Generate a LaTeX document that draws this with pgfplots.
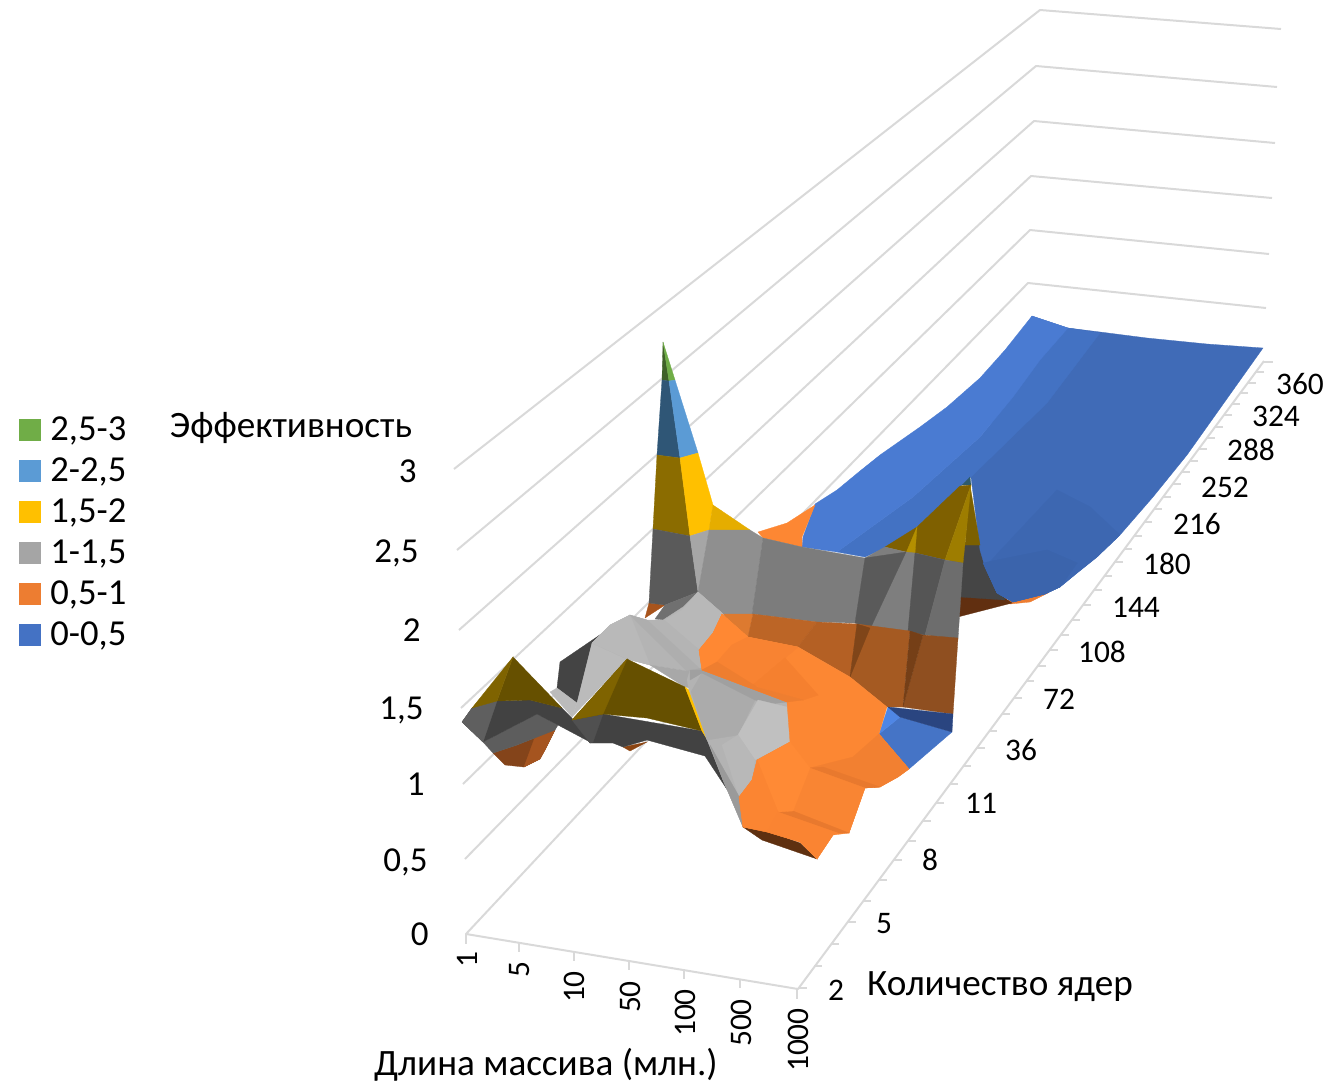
\documentclass[border=0pt]{standalone}
\usepackage{fontspec}
\setmainfont{Carlito}
\usepackage{pgfplots}
\pgfplotsset{compat=1.18}
\definecolor{gridc}{HTML}{D9D9D9}
% one flat facet of the projected surface, in canvas units
\newcommand\facet[2]{\xglobal\definecolor{c#1}{HTML}{#1}%
  \addplot[fill=c#1,draw=c#1,line width=0.15pt,forget plot] coordinates {#2} --cycle;}
\newcommand\gline[1]{\addplot[draw=gridc,line width=1pt,line join=round,forget plot] coordinates {#1};}
\newcommand\fsT{\fontsize{18.6}{22}\selectfont}
\newcommand\fsL{\fontsize{18.3}{22}\selectfont}
\newcommand\fsZ{\fontsize{17.5}{21}\selectfont}
\newcommand\fsA{\fontsize{15.7}{19}\selectfont}
\newcommand\lab[3]{\node[anchor=base,inner sep=0pt,font=\fsA] at (axis cs:#1,#2) {#3};}
\newcommand\tlab[3]{\node[anchor=base,inner sep=0pt,font=\fsT] at (axis cs:#1,#2) {#3};}
\newcommand\rlab[3]{\node[anchor=base east,inner sep=0pt,font=\fsZ] at (axis cs:#1,#2) {#3};}
\newcommand\llab[3]{\node[anchor=base west,inner sep=0pt,font=\fsL] at (axis cs:#1,#2) {#3};}
\newcommand\vlab[3]{\node[rotate=90,anchor=center,inner sep=0pt,font=\fsA] at (axis cs:#1,#2) {#3};}
\begin{document}
\begin{tikzpicture}
\useasboundingbox (0,0) rectangle (665pt,541.5pt);
\begin{axis}[at={(0,0)},anchor=south west,scale only axis,width=665pt,height=541.5pt,
  xmin=0,xmax=1330,ymin=0,ymax=1083,y dir=reverse,hide axis,clip=false,unbounded coords=jump]

% wall and floor grid lines
\gline{(454,469)(1040,10)(1281,29)}
\gline{(457,550)(1036,66)(1277,87)}
\gline{(459,630)(1034,121)(1275,143)}
\gline{(461,708)(1031,176)(1272,198)}
\gline{(463,784)(1030,230)(1269,254)}
\gline{(465,859)(1028,283)(1266,308)}
\gline{(1026,335)(466,934)(798,989)(1264,361)}
% ticks on the length axis
\gline{(466,934)(466,944)(nan,nan)(519,943)(519,952)(nan,nan)(574,952)(574,961)(nan,nan)(629,961)(629,970)(nan,nan)(684,970)(684,979)(nan,nan)(740,979)(740,988)(nan,nan)(797,989)(797,999)}
% ticks on the core-count axis
\gline{(1263,362)(1273,362)(nan,nan)(1256,372)(1264,372)(nan,nan)(1248,383)(1256,383)(nan,nan)(1240,393)(1248,393)(nan,nan)(1232,404)(1240,404)(nan,nan)(1224,415)(1232,415)(nan,nan)(1215,427)(1223,427)(nan,nan)(1207,438)(1215,438)(nan,nan)(1199,449)(1207,449)(nan,nan)(1190,461)(1198,461)(nan,nan)(1182,472)(1190,472)(nan,nan)(1173,484)(1181,484)(nan,nan)(1163,497)(1171,497)(nan,nan)(1154,509)(1162,509)(nan,nan)(1144,522)(1152,522)(nan,nan)(1134,536)(1142,536)(nan,nan)(1124,549)(1132,549)(nan,nan)(1115,562)(1123,562)(nan,nan)(1104,576)(1112,576)(nan,nan)(1094,590)(1102,590)(nan,nan)(1083,605)(1091,605)(nan,nan)(1072,620)(1080,620)(nan,nan)(1061,635)(1069,635)(nan,nan)(1050,650)(1058,650)(nan,nan)(1038,666)(1046,666)(nan,nan)(1026,681)(1034,681)(nan,nan)(1014,698)(1022,698)(nan,nan)(1002,714)(1010,714)(nan,nan)(989,731)(997,731)(nan,nan)(977,748)(985,748)(nan,nan)(963,766)(971,766)(nan,nan)(950,784)(958,784)(nan,nan)(936,803)(944,803)(nan,nan)(923,821)(931,821)(nan,nan)(908,841)(916,841)(nan,nan)(894,860)(902,860)(nan,nan)(879,880)(887,880)(nan,nan)(863,901)(871,901)(nan,nan)(848,922)(856,922)(nan,nan)(831,944)(839,944)(nan,nan)(814,966)(822,966)(nan,nan)(799,988)(807,988)}

% rear ridge seen below the far sheet
\facet{ED7D31}{(1005,601)(1030,597)(1048,593)(1030,602)(1010,604)}
\facet{612F10}{(950,619)(950,597)(993,590)(1012,603)}
\facet{454545}{(950,597)(950,545)(980,545)(990,560)(1005,600)(960,597)}

% low-efficiency sheet at the far end
\facet{406BB7}{(1032,316)(1068,328)(1100,332)(1147,338)(1207,344)(1263,348)(1187,455)(1153,497)(1120,535)(1097,557)(1077,573)(1060,587)(1045,594)(1013,602)(997,593)(985,567)(980,550)(971,477)}
\facet{3D67B1}{(985,567)(1057,490)(1090,507)(1120,535)(1097,557)(1077,573)(1060,587)(1045,594)(1013,602)(997,593)}
\facet{3B64AC}{(983,563)(1047,550)(1077,563)(1060,587)(1045,594)(1013,602)(997,593)}
\facet{4372C3}{(1068,328)(1100,333)(1047,403)(971,477)(962,485)(917,527)(885,548)(865,557)(837,552)(913,497)(980,437)(1013,397)(1040,360)}
\facet{4A7BD2}{(1032,316)(1068,328)(1040,360)(1013,397)(980,437)(913,497)(837,552)(802,547)(803,537)(815,504)(837,490)(860,471)(880,455)(920,427)(947,407)(980,378)(1005,350)}
\facet{FD8733}{(758,532)(787,523)(815,505)(802,537)(802,547)(763,538)}

% ridge rising out of the sheet
\facet{7C6000}{(970,485)(980,545)(965,545)}
\facet{2E5A6B}{(962,485)(970,477)(971,485)}
\facet{7F6000}{(885,547)(917,527)(960,486)(971,485)(945,560)(915,553)(906,552)}
\facet{B48F00}{(917,527)(915,553)(906,553)}
\facet{9E7D00}{(971,485)(963,563)(945,560)}

% peak near the small core counts
\facet{3F6128}{(663,342)(669,381)(662,380)}
\facet{70AD47}{(663,342)(675,380)(669,381)}
\facet{2F5676}{(662,380)(669,381)(680,458)(657,455)}
\facet{5B9BD5}{(669,381)(675,380)(698,453)(680,458)}
\facet{8B6C00}{(657,455)(680,458)(690,536)(653,529)}
\facet{FFC000}{(680,458)(698,453)(713,505)(709,530)(690,536)}
\facet{E5AD00}{(713,505)(750,530)(709,530)}
\facet{A8541C}{(649,603)(665,605)(645,618)}
\facet{5A5A5A}{(653,529)(690,536)(698,592)(665,605)(649,603)}
\facet{A6A6A6}{(690,536)(709,530)(698,592)}
\facet{8F8F8F}{(709,530)(750,530)(763,538)(752,614)(722,614)(698,592)}

% front wall, grey band
\facet{7C7C7C}{(763,538)(802,547)(865,558)(855,623)(817,622)(752,614)}
\facet{7E7E7E}{(865,558)(885,547)(906,552)(915,553)(945,560)(925,635)(908,631)(871,627)(855,623)}
\facet{5A5A5A}{(865,558)(906,552)(871,627)(855,623)}
\facet{555555}{(915,553)(945,560)(925,635)(908,631)}
\facet{6D6D6D}{(945,560)(963,563)(958,639)(925,635)}

% front wall, orange band
\facet{DD7A30}{(722,614)(753,614)(748,637)}
\facet{BC6526}{(753,614)(817,622)(798,647)(748,637)}
\facet{B46024}{(817,622)(857,624)(850,677)(798,647)}
\facet{A55A22}{(857,624)(910,631)(903,707)(887,707)(850,677)}
\facet{7F4519}{(857,624)(870,628)(850,677)}
\facet{8F4F20}{(923,635)(958,638)(953,714)(903,707)}
\facet{753F17}{(910,631)(923,635)(903,707)}

% front wall, blue corner
\facet{4574C6}{(900,717)(952,732)(909,769)(879,734)}
\facet{4F86E5}{(888,707)(900,717)(879,734)}
\facet{2A4580}{(888,707)(953,714)(952,732)(900,717)}

% left ridge
\facet{84441A}{(493,753)(517,745)(555,730)(545,750)(540,759)(524,767)(505,765)}
\facet{A5541F}{(535,737)(555,730)(545,750)(540,759)(524,767)}
\facet{5D5D5D}{(483,742)(537,714)(558,725)(555,730)(517,745)(493,753)}
\facet{424242}{(472,708)(497,701)(530,700)(562,708)(571,717)(590,742)(558,725)(537,714)(483,742)(462,722)}
\facet{5F5F5F}{(462,722)(472,708)(497,701)(483,742)}
\facet{665000}{(513,657)(562,708)(530,700)(497,701)}
\facet{7F6300}{(513,657)(497,701)(472,708)}

% grey shelf in the middle
\facet{444444}{(610,628)(592,643)(577,703)(557,688)(560,662)}
\facet{BBBBBB}{(557,688)(577,703)(572,717)(550,692)}
\facet{8B4513}{(623,747)(647,742)(630,751)}
\facet{424242}{(572,720)(603,714)(702,731)(708,742)(732,797)(705,756)(647,740)(623,747)(613,743)(590,743)}
\facet{505050}{(572,720)(603,714)(593,742)(590,743)}
\facet{BBBBBB}{(610,625)(592,643)(577,703)(572,717)(627,659)}
\facet{707070}{(665,605)(698,592)(682,610)(665,620)(655,619)}
\facet{B4B4B4}{(630,615)(647,620)(663,620)(683,607)(698,592)(722,613)(730,625)(730,640)(715,670)(699,675)(687,671)(650,665)(627,659)(592,643)(610,625)}
\facet{B8B8B8}{(698,592)(722,613)(735,630)(700,650)(665,620)(682,610)}
\facet{B9B9B9}{(610,625)(630,615)(650,665)(627,659)(592,643)}
\facet{AEAEAE}{(630,615)(647,620)(699,668)(687,671)}
\facet{A8A8A8}{(650,665)(687,671)(702,668)(700,690)(685,687)}
\facet{665000}{(572,720)(627,659)(685,687)(702,731)(647,718)(603,714)}
\facet{7F6300}{(572,720)(627,659)(603,714)}
\facet{FFC000}{(685,687)(689,690)(709,742)(702,731)}

% grey slope in front of the shelf
\facet{B3B3B3}{(687,680)(690,670)(702,670)(800,702)(800,742)(757,760)(752,780)(739,797)(743,827)(723,780)(708,742)(689,690)}
\facet{ABABAB}{(702,673)(755,700)(738,735)(707,740)(691,692)}
\facet{A0A0A0}{(690,670)(702,670)(755,690)(787,702)(770,704)(755,700)(702,673)(690,680)}
\facet{C0C0C0}{(758,700)(787,707)(790,742)(755,760)(738,735)}
\facet{B8B8B8}{(738,735)(755,760)(752,780)(739,797)(722,745)}
\facet{9A9A9A}{(710,745)(741,800)(743,827)(723,780)}

% orange basin and its dark underside
\facet{5F3010}{(743,827)(762,840)(817,859)(800,843)(767,831)}
\facet{FC8733}{(722,614)(748,637)(798,647)(850,677)(887,707)(879,734)(909,769)(898,777)(880,787)(865,788)(849,833)(833,835)(817,859)(800,842)(767,832)(743,827)(739,797)(752,780)(757,760)(790,742)(787,702)(702,670)(699,650)(713,633)}
\facet{FF8833}{(699,650)(713,633)(722,614)(748,637)(732,645)(717,662)(702,670)}
\facet{F88332}{(717,662)(732,645)(748,637)(798,647)(785,658)(753,685)}
\facet{F5802F}{(785,658)(818,695)(803,700)(753,685)}
\facet{EE7E30}{(702,670)(717,662)(757,687)(803,700)(787,702)}
\facet{F28031}{(879,734)(909,769)(898,777)(880,787)(865,788)(810,768)(853,757)}
\facet{E8792E}{(810,768)(823,767)(880,787)(865,788)}
\facet{F98533}{(810,768)(865,788)(849,833)(780,812)(793,811)}
\facet{E8792E}{(778,812)(793,811)(849,833)(838,833)}
\facet{FF8A35}{(757,760)(790,742)(810,768)(793,811)(778,812)}
\facet{FB8532}{(739,797)(752,780)(757,760)(778,812)(767,832)(743,827)}
\facet{FA8432}{(778,812)(838,833)(833,835)(817,859)(800,842)(767,832)}

% legend
\facet{70AD47}{(19,419)(40,419)(40,440)(19,440)}
\facet{5B9BD5}{(19,460)(40,460)(40,481)(19,481)}
\facet{FFC000}{(19,501)(40,501)(40,522)(19,522)}
\facet{A5A5A5}{(19,542)(40,542)(40,563)(19,563)}
\facet{ED7D31}{(19,583)(40,583)(40,604)(19,604)}
\facet{4472C4}{(19,624)(40,624)(40,645)(19,645)}
\llab{50}{440}{2,5-3}
\llab{50}{481}{2-2,5}
\llab{50}{522}{1,5-2}
\llab{50}{563}{1-1,5}
\llab{50}{604}{0,5-1}
\llab{50}{645}{0-0,5}

% efficiency axis
\tlab{291}{437}{Эффективность}
\rlab{417}{482}{3}
\rlab{419}{562}{2,5}
\rlab{421}{641}{2}
\rlab{424}{719}{1,5}
\rlab{425}{795}{1}
\rlab{428}{871}{0,5}
\rlab{429}{945}{0}

% length axis
\vlab{467}{960}{1}
\vlab{520}{970}{5}
\vlab{574}{987}{10}
\vlab{630}{997}{50}
\vlab{685}{1013}{100}
\vlab{741}{1023}{500}
\vlab{798}{1040}{1000}
\tlab{546}{1075}{Длина массива (млн.)}

% core-count axis
\lab{836}{1000}{2}
\lab{884}{933}{5}
\lab{930}{870}{8}
\lab{981}{813}{11}
\lab{1021}{760}{36}
\lab{1059}{709}{72}
\lab{1102}{662}{108}
\lab{1136}{617}{144}
\lab{1167}{574}{180}
\lab{1197}{534}{216}
\lab{1225}{497}{252}
\lab{1251}{460}{288}
\lab{1276}{426}{324}
\lab{1300}{394}{360}
\tlab{1000}{995}{Количество ядер}
\end{axis}
\end{tikzpicture}
\end{document}
